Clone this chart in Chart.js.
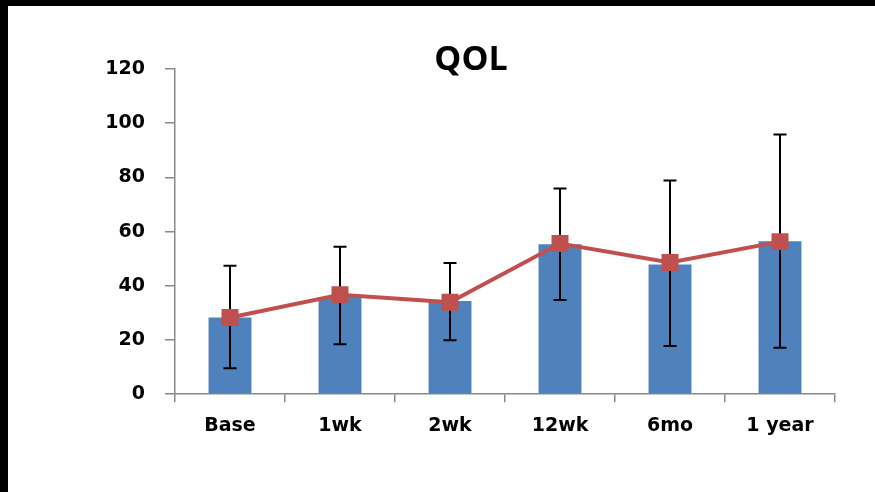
<!DOCTYPE html>
<html>
<head>
<meta charset="utf-8">
<script src="https://cdn.jsdelivr.net/npm/chart.js@4.4.0/dist/chart.umd.min.js"></script>
<style>
  html, body { margin: 0; padding: 0; background: #000; overflow: hidden; }
  #wrap { position: absolute; left: 8px; top: 6px; width: 867px; height: 486px; background: #fff; }
</style>
</head>
<body>
<div id="wrap"><canvas id="qol"></canvas></div>
<script>
// values
var labels = ['Base', '1wk', '2wk', '12wk', '6mo', '1 year'];
var barMeans = [28.3, 35.9, 34.4, 55.3, 47.9, 56.4];
var lineMeans = [28.3, 36.7, 33.9, 55.6, 48.6, 56.3];
var errHigh = [47.4, 54.4, 48.4, 75.9, 78.9, 95.8];
var errLow = [9.6, 18.4, 19.9, 34.8, 17.8, 17.1];
var yTicks = [0, 20, 40, 60, 80, 100, 120];

var axisGrey = '#898989';
var tickFont = { family: 'DejaVu Sans', size: 19, weight: 'bold' };

// error whiskers, drawn after the bars but under the line
var errorBars = {
	id: 'errorBars',
	afterDatasetDraw: function(chart, args) {
		if (args.index !== 0) return;
		var ctx = chart.ctx;
		var x = chart.scales.x, y = chart.scales.y;
		ctx.save();
		ctx.strokeStyle = '#000';
		ctx.lineWidth = 2;
		for (var i = 0; i < labels.length; i++) {
			var px = x.getPixelForValue(i);
			var top = y.getPixelForValue(errHigh[i]);
			var bot = y.getPixelForValue(errLow[i]);
			ctx.beginPath();
			ctx.moveTo(px, top); ctx.lineTo(px, bot);
			ctx.moveTo(px - 6.5, top); ctx.lineTo(px + 6.5, top);
			ctx.moveTo(px - 6.5, bot); ctx.lineTo(px + 6.5, bot);
			ctx.stroke();
		}
		ctx.restore();
	}
};

var chart = new Chart(document.getElementById('qol'), {
	type: 'bar',
	data: {
		labels: labels,
		datasets: [
			{
				type: 'bar',
				label: 'mean',
				data: barMeans,
				backgroundColor: '#4F81BD',
				borderWidth: 0,
				barPercentage: 0.39,
				categoryPercentage: 1,
				order: 2
			},
			{
				type: 'line',
				label: 'trend',
				data: lineMeans,
				borderColor: '#C0504D',
				backgroundColor: '#C0504D',
				borderWidth: 4,
				pointStyle: 'rect',
				pointRadius: 12,
				pointBorderWidth: 0,
				tension: 0,
				order: 1
			}
		]
	},
	options: {
		responsive: true,
		maintainAspectRatio: false,
		animation: false,
		layout: { padding: { left: 99, right: 40, top: 0, bottom: 43 } },
		plugins: {
			legend: { display: false },
			tooltip: { enabled: false },
			title: {
				display: true,
				text: 'QOL',
				color: '#000',
				font: { family: 'Open Sans', size: 34, weight: 'bold', lineHeight: 0.5 },
				padding: { top: 46, bottom: 0 }
			}
		},
		scales: {
			x: {
				grid: { display: true, drawOnChartArea: false, offset: true, color: axisGrey, lineWidth: 1.5, tickLength: 8 },
				border: { display: true, color: axisGrey, width: 1.5 },
				ticks: { color: '#000', font: tickFont, padding: 12, maxRotation: 0 }
			},
			y: {
				min: 0,
				max: 120,
				afterBuildTicks: function(scale) {
					scale.ticks = yTicks.map(function(v) { return { value: v }; });
				},
				afterFit: function(scale) { scale.width = 68; },
				grid: { display: true, drawOnChartArea: false, color: axisGrey, lineWidth: 1.5, tickLength: 10 },
				border: { display: true, color: axisGrey, width: 1.5 },
				ticks: { color: '#000', font: tickFont, padding: 20 }
			}
		}
	},
	plugins: [errorBars]
});
</script>
</body>
</html>
